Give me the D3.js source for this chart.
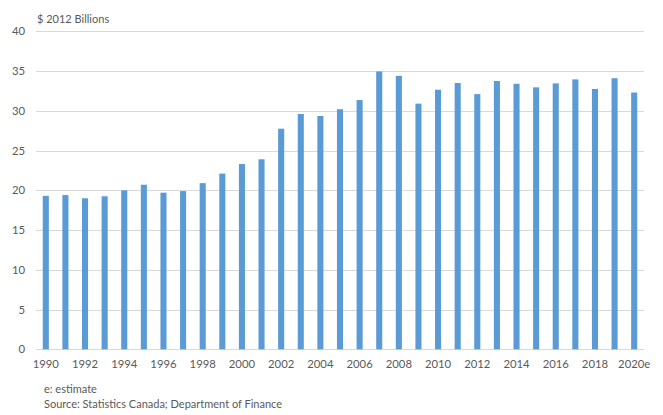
<!DOCTYPE html>
<html><head><meta charset="utf-8">
<script src="https://cdn.jsdelivr.net/npm/d3@7"></script>
<style>body{margin:0;background:#fff}svg{display:block}text{font-family:Lato,"Open Sans",sans-serif;fill:#595959}</style>
</head><body><svg id="c" width="663" height="415"></svg>
<script>
const years = ["1990","1991","1992","1993","1994","1995","1996","1997","1998","1999","2000","2001","2002","2003","2004","2005","2006","2007","2008","2009","2010","2011","2012","2013","2014","2015","2016","2017","2018","2019","2020e"];
const values = [19.3,19.4,19.0,19.25,20.0,20.7,19.7,19.9,20.9,22.1,23.3,23.9,27.75,29.6,29.35,30.2,31.35,34.95,34.4,30.9,32.65,33.5,32.1,33.75,33.4,32.95,33.45,33.95,32.75,34.1,32.3];
const yTicks = [0,5,10,15,20,25,30,35,40];
const unitLabel = "$ 2012 Billions";
const notes = ["e: estimate","Source: Statistics Canada; Department of Finance"];

const svg = d3.select("#c");
const m = {l:36, r:19, t:31.3, b:65.7};
const W = 663, H = 415;
const x = d3.scaleBand().domain(years).range([m.l, W-m.r]).paddingInner(0.69).paddingOuter(0.345);
const y = d3.scaleLinear().domain([0,40]).range([H-m.b, m.t]);

svg.append("g").selectAll("line").data(yTicks).join("line")
  .attr("x1", m.l).attr("x2", W-m.r)
  .attr("y1", d=>Math.round(y(d))+0.5).attr("y2", d=>Math.round(y(d))+0.5)
  .attr("stroke", "#D9D9D9").attr("stroke-width", 1);

svg.append("g").selectAll("text").data(yTicks).join("text")
  .attr("x", 25).attr("y", d=>y(d)+4).attr("text-anchor","end")
  .attr("font-size", 11.3).text(d=>d);

svg.append("g").selectAll("rect").data(values).join("rect")
  .attr("x", (d,i)=>x(years[i])).attr("width", x.bandwidth())
  .attr("y", d=>y(d)).attr("height", d=>y(0)-y(d))
  .attr("fill", "#5B9BD5");

svg.append("g").selectAll("text").data(years.filter((d,i)=>i%2===0)).join("text")
  .attr("x", d=>x(d)+x.bandwidth()/2).attr("y", 368).attr("text-anchor","middle")
  .attr("font-size", 11.3).text(d=>d);

svg.append("text").attr("x", 37).attr("y", 23).attr("font-size", 11).text(unitLabel);
svg.append("g").selectAll("text").data(notes).join("text")
  .attr("x", 44).attr("y", (d,i)=>393+i*15).attr("font-size", 11).text(d=>d);
</script></body></html>
